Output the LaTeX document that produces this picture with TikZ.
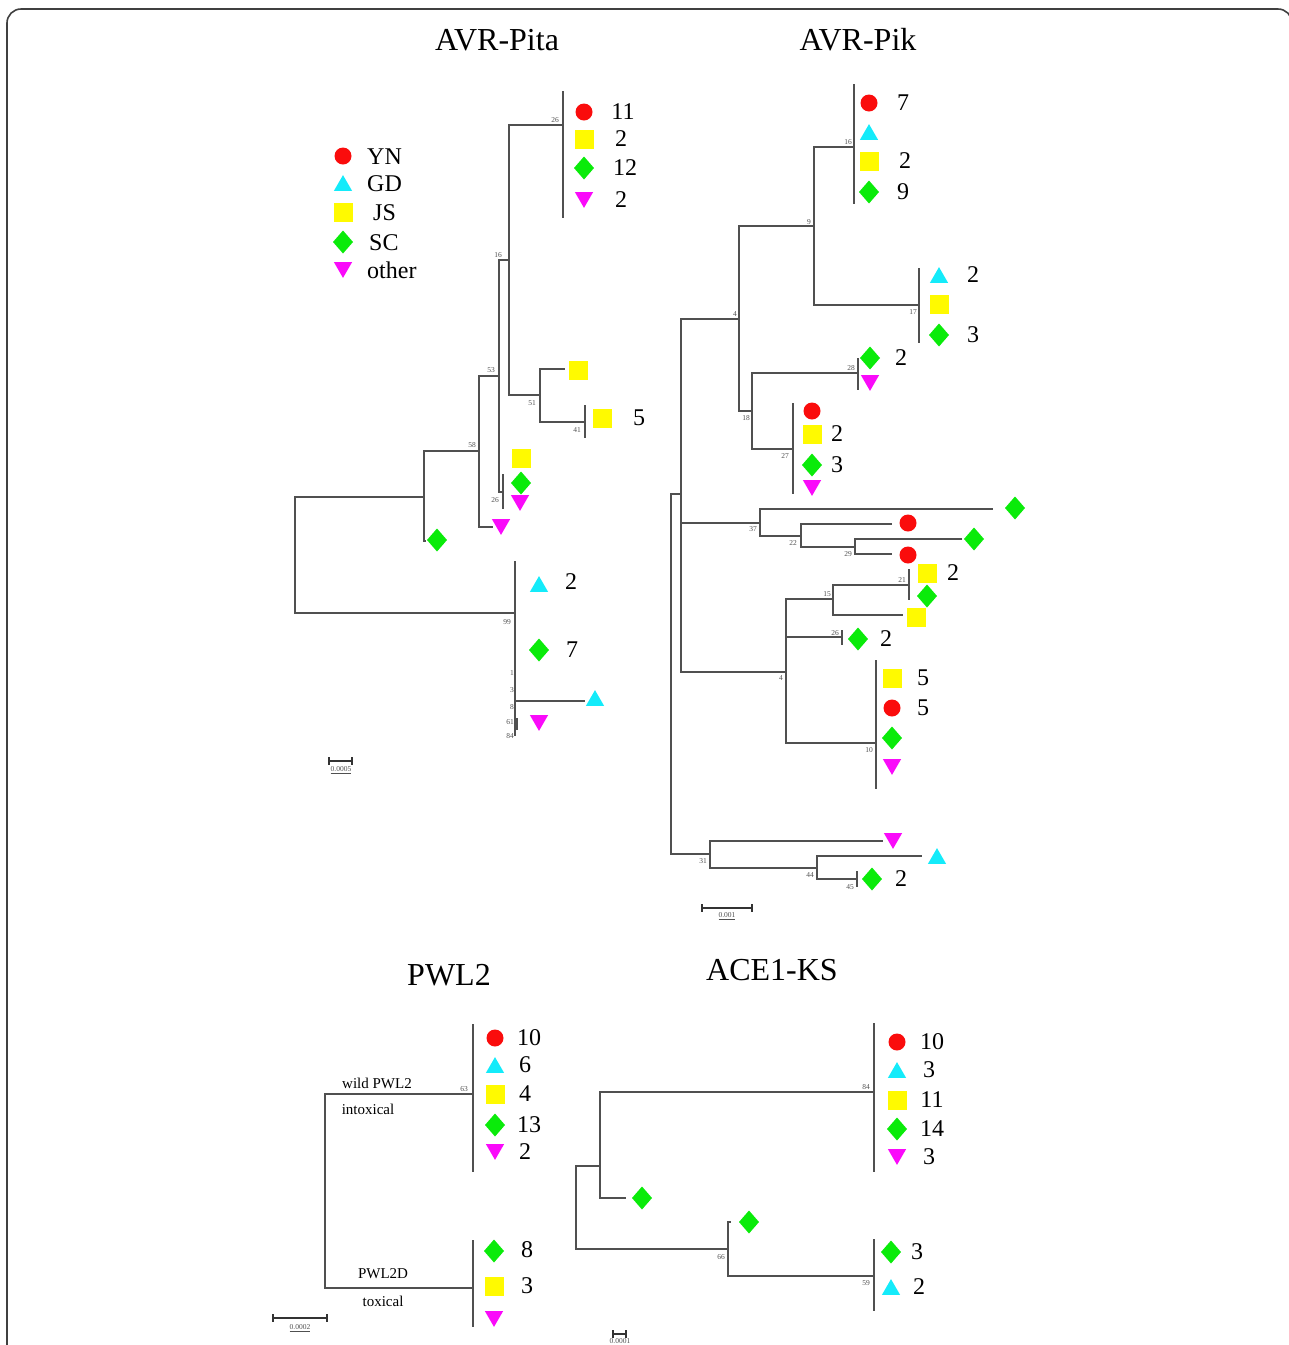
\documentclass[tikz,border=0pt]{standalone}
\usepackage{fontspec}
\setmainfont{Liberation Serif}
\usetikzlibrary{shapes.geometric}
\definecolor{ynred}{RGB}{250,12,12}
\definecolor{gdcyan}{RGB}{20,235,250}
\definecolor{jsyel}{RGB}{255,250,0}
\definecolor{scgreen}{RGB}{10,235,10}
\definecolor{otmag}{RGB}{250,10,250}
\definecolor{treegray}{RGB}{80,80,80}
\tikzset{
  br/.style={draw=treegray, line width=1.1pt},
  bs/.style={font=\fontsize{7.5}{8}\selectfont, text=treegray, inner sep=0pt},
  num/.style={font=\fontsize{24}{24}\selectfont, inner sep=0pt},
  legtxt/.style={font=\fontsize{24}{24}\selectfont, inner sep=0pt, anchor=west},
  ttl/.style={font=\fontsize{32}{32}\selectfont, inner sep=0pt},
  lbl/.style={font=\fontsize{15}{15}\selectfont, inner sep=0pt},
  sclbl/.style={font=\fontsize{7.5}{8}\selectfont, text=treegray, inner sep=0pt},
  symb/.style={inner sep=0pt, outer sep=0pt, draw=none},
  yn/.style={symb, circle, fill=ynred, minimum size=17pt},
  gd/.style={symb, regular polygon, regular polygon sides=3, fill=gdcyan, minimum size=21pt, yshift=-2.6pt},
  js/.style={symb, rectangle, fill=jsyel, minimum size=19pt},
  sc/.style={symb, diamond, fill=scgreen, minimum width=20pt, minimum height=23pt},
  ot/.style={symb, regular polygon, regular polygon sides=3, shape border rotate=180, fill=otmag, minimum size=21pt, yshift=2.6pt},
}
\begin{document}
\begin{tikzpicture}[x=1pt,y=-1pt]
\useasboundingbox (0,0) rectangle (1289,1345);
\begin{scope}
\clip (0,0) rectangle (1289,1345);
\draw[rounded corners=14pt, line width=1.6pt, black!75] (7,1400) -- (7,9) -- (1292,9) -- (1292,1400);
\end{scope}

% ---------- titles ----------
\node[ttl] (t1) at (497,40) {AVR-Pita};
\node[ttl] (t2) at (858,40) {AVR-Pik};
\node[ttl] (t3) at (449,975) {PWL2};
\node[ttl] (t4) at (772,970) {ACE1-KS};

% ---------- legend ----------
\node[yn] (lg1) at (343,156) {};
\node[gd] (lg2) at (343,183) {};
\node[js] (lg3) at (343,212) {};
\node[sc] (lg4) at (343,242) {};
\node[ot] (lg5) at (343,270) {};
\node[legtxt] (lt1) at (367,157) {YN};
\node[legtxt] (lt2) at (367,184) {GD};
\node[legtxt] (lt3) at (373,213) {JS};
\node[legtxt] (lt4) at (369,243) {SC};
\node[legtxt] (lt5) at (367,270) {other};

% ================= AVR-Pita tree =================
\coordinate (a0) at (295,555);
\coordinate (aN1) at (424,497);
\coordinate (aL1) at (426,541);
\coordinate (a58) at (479,451);
\coordinate (aL2) at (493,527);
\coordinate (a53) at (499,376);
\coordinate (a16) at (509,260);
\coordinate (a26) at (563,125);
\coordinate (a26t) at (563,91);
\coordinate (a26b) at (563,218);
\coordinate (a51) at (540,395);
\coordinate (aL3) at (565,369);
\coordinate (a41) at (585,422);
\coordinate (a41t) at (585,405);
\coordinate (a41b) at (585,438);
\coordinate (a26s) at (503,492);
\coordinate (a26st) at (503,474);
\coordinate (a26sb) at (503,509);
\coordinate (a99) at (515,613);
\coordinate (a99t) at (515,561);
\coordinate (a99b) at (515,736);
\coordinate (aL4) at (585,701);
\coordinate (a61t) at (517,718);
\coordinate (a61b) at (517,730);

\draw[br] (a0) |- (aN1);
\draw[br] (a0) |- (a99);
\draw[br] (aN1) |- (a58);
\draw[br] (aN1) |- (aL1);
\draw[br] (a58) |- (a53);
\draw[br] (a58) |- (aL2);
\draw[br] (a53) |- (a16);
\draw[br] (a53) |- (a26s);
\draw[br] (a16) |- (a26);
\draw[br] (a16) |- (a51);
\draw[br] (a51) |- (aL3);
\draw[br] (a51) |- (a41);
\draw[br] (a26t) -- (a26b);
\draw[br] (a41t) -- (a41b);
\draw[br] (a26st) -- (a26sb);
\draw[br] (a99t) -- (a99b);
\draw[br] (a99) |- (aL4);
\draw[br] (a61t) -- (a61b);

\node[bs] (ab1) at (555,120) {26};
\node[bs] (ab2) at (498,255) {16};
\node[bs] (ab3) at (491,370) {53};
\node[bs] (ab4) at (532,403) {51};
\node[bs] (ab5) at (577,430) {41};
\node[bs] (ab6) at (472,445) {58};
\node[bs] (ab7) at (495,500) {26};
\node[bs] (ab8) at (507,622) {99};
\node[bs] (ab9) at (512,673) {1};
\node[bs] (ab10) at (512,690) {3};
\node[bs] (ab11) at (512,707) {8};
\node[bs] (ab12) at (510,722) {61};
\node[bs] (ab13) at (510,736) {84};

\node[yn] (as1) at (584,112) {};
\node[num] (an1) at (623,112) {11};
\node[js] (as2) at (584,139) {};
\node[num] (an2) at (621,139) {2};
\node[sc] (as3) at (584,168) {};
\node[num] (an3) at (625,168) {12};
\node[ot] (as4) at (584,200) {};
\node[num] (an4) at (621,200) {2};
\node[js] (as5) at (578,370) {};
\node[js] (as6) at (602,418) {};
\node[num] (an6) at (639,418) {5};
\node[js] (as7) at (521,458) {};
\node[sc] (as8) at (521,483) {};
\node[ot] (as9) at (520,503) {};
\node[ot] (as10) at (501,527) {};
\node[sc] (as11) at (437,540) {};
\node[gd] (as12) at (539,584) {};
\node[num] (an12) at (571,582) {2};
\node[sc] (as13) at (539,650) {};
\node[num] (an13) at (572,650) {7};
\node[gd] (as14) at (595,698) {};
\node[ot] (as15) at (539,723) {};

\coordinate (asb1) at (329,761);
\coordinate (asb2) at (352,761);
\draw[line width=1.2pt, black!80] (asb1) -- (asb2) (329,757) -- (329,765) (352,757) -- (352,765);
\node[sclbl] (asl) at (341,770) {\underline{0.0005}};

% ================= AVR-Pik tree =================
\coordinate (b0) at (671,674);
\coordinate (bN) at (681,494);
\coordinate (b4u) at (739,319);
\coordinate (b9) at (814,226);
\coordinate (b16) at (854,147);
\coordinate (b16t) at (854,84);
\coordinate (b16b) at (854,204);
\coordinate (b17) at (919,305);
\coordinate (b17t) at (919,268);
\coordinate (b17b) at (919,343);
\coordinate (b18) at (752,411);
\coordinate (b28) at (858,373);
\coordinate (b28t) at (858,358);
\coordinate (b28b) at (858,390);
\coordinate (b27) at (793,449);
\coordinate (b27t) at (793,403);
\coordinate (b27b) at (793,494);
\coordinate (b37) at (760,523);
\coordinate (bL1) at (993,509);
\coordinate (b22) at (801,536);
\coordinate (bL2) at (892,524);
\coordinate (b29) at (855,547);
\coordinate (bL3) at (962,539);
\coordinate (bL4) at (892,554);
\coordinate (b4l) at (786,672);
\coordinate (b15) at (833,599);
\coordinate (b21) at (909,585);
\coordinate (b21t) at (909,569);
\coordinate (b21b) at (909,600);
\coordinate (bL5) at (903,615);
\coordinate (b26) at (842,637);
\coordinate (b26t) at (842,630);
\coordinate (b26b) at (842,645);
\coordinate (b10) at (876,743);
\coordinate (b10t) at (876,660);
\coordinate (b10b) at (876,789);
\coordinate (b31) at (710,854);
\coordinate (bL6) at (883,841);
\coordinate (b44) at (817,868);
\coordinate (bL7) at (922,856);
\coordinate (b45) at (857,879);
\coordinate (b45t) at (857,871);
\coordinate (b45b) at (857,887);

\draw[br] (b0) |- (bN);
\draw[br] (b0) |- (b31);
\draw[br] (bN) |- (b4u);
\draw[br] (bN) |- (b37);
\draw[br] (bN) |- (b4l);
\draw[br] (b4u) |- (b9);
\draw[br] (b4u) |- (b18);
\draw[br] (b9) |- (b16);
\draw[br] (b9) |- (b17);
\draw[br] (b18) |- (b28);
\draw[br] (b18) |- (b27);
\draw[br] (b37) |- (bL1);
\draw[br] (b37) |- (b22);
\draw[br] (b22) |- (bL2);
\draw[br] (b22) |- (b29);
\draw[br] (b29) |- (bL3);
\draw[br] (b29) |- (bL4);
\draw[br] (b4l) |- (b15);
\draw[br] (b4l) |- (b26);
\draw[br] (b4l) |- (b10);
\draw[br] (b15) |- (b21);
\draw[br] (b15) |- (bL5);
\draw[br] (b31) |- (bL6);
\draw[br] (b31) |- (b44);
\draw[br] (b44) |- (bL7);
\draw[br] (b44) |- (b45);
\draw[br] (b16t) -- (b16b);
\draw[br] (b17t) -- (b17b);
\draw[br] (b28t) -- (b28b);
\draw[br] (b27t) -- (b27b);
\draw[br] (b21t) -- (b21b);
\draw[br] (b26t) -- (b26b);
\draw[br] (b10t) -- (b10b);
\draw[br] (b45t) -- (b45b);

\node[bs] (bb1) at (848,142) {16};
\node[bs] (bb2) at (809,222) {9};
\node[bs] (bb3) at (913,312) {17};
\node[bs] (bb4) at (735,314) {4};
\node[bs] (bb5) at (851,368) {28};
\node[bs] (bb6) at (746,418) {18};
\node[bs] (bb7) at (785,456) {27};
\node[bs] (bb8) at (753,529) {37};
\node[bs] (bb9) at (793,543) {22};
\node[bs] (bb10) at (848,554) {29};
\node[bs] (bb11) at (902,580) {21};
\node[bs] (bb12) at (827,594) {15};
\node[bs] (bb13) at (835,633) {26};
\node[bs] (bb14) at (781,678) {4};
\node[bs] (bb15) at (869,750) {10};
\node[bs] (bb16) at (703,861) {31};
\node[bs] (bb17) at (810,875) {44};
\node[bs] (bb18) at (850,887) {45};

\node[yn] (bs1) at (869,103) {};
\node[num] (bn1) at (903,103) {7};
\node[gd] (bs2) at (869,132) {};
\node[js] (bs3) at (869,161) {};
\node[num] (bn3) at (905,161) {2};
\node[sc] (bs4) at (869,192) {};
\node[num] (bn4) at (903,192) {9};
\node[gd] (bs5) at (939,275) {};
\node[num] (bn5) at (973,275) {2};
\node[js] (bs6) at (939,304) {};
\node[sc] (bs7) at (939,335) {};
\node[num] (bn7) at (973,335) {3};
\node[sc] (bs8) at (870,358) {};
\node[num] (bn8) at (901,358) {2};
\node[ot] (bs9) at (870,383) {};
\node[yn] (bs10) at (812,411) {};
\node[js] (bs11) at (812,434) {};
\node[num] (bn11) at (837,434) {2};
\node[sc] (bs12) at (812,465) {};
\node[num] (bn12) at (837,465) {3};
\node[ot] (bs13) at (812,488) {};
\node[sc] (bs14) at (1015,508) {};
\node[yn] (bs15) at (908,523) {};
\node[sc] (bs16) at (974,539) {};
\node[yn] (bs17) at (908,555) {};
\node[js] (bs18) at (927,573) {};
\node[num] (bn18) at (953,573) {2};
\node[sc] (bs19) at (927,596) {};
\node[js] (bs20) at (916,617) {};
\node[sc] (bs21) at (858,639) {};
\node[num] (bn21) at (886,639) {2};
\node[js] (bs22) at (892,678) {};
\node[num] (bn22) at (923,678) {5};
\node[yn] (bs23) at (892,708) {};
\node[num] (bn23) at (923,708) {5};
\node[sc] (bs24) at (892,738) {};
\node[ot] (bs25) at (892,767) {};
\node[ot] (bs26) at (893,841) {};
\node[gd] (bs27) at (937,856) {};
\node[sc] (bs28) at (872,879) {};
\node[num] (bn28) at (901,879) {2};

\coordinate (bsb1) at (702,908);
\coordinate (bsb2) at (752,908);
\draw[line width=1.2pt, black!80] (bsb1) -- (bsb2) (702,904) -- (702,912) (752,904) -- (752,912);
\node[sclbl] (bsl) at (727,916) {\underline{0.001}};

% ================= PWL2 tree =================
\coordinate (c0) at (325,1191);
\coordinate (c63) at (473,1094);
\coordinate (c63t) at (473,1024);
\coordinate (c63b) at (473,1172);
\coordinate (cD) at (473,1288);
\coordinate (cDt) at (473,1240);
\coordinate (cDb) at (473,1327);
\draw[br] (c0) |- (c63);
\draw[br] (c0) |- (cD);
\draw[br] (c63t) -- (c63b);
\draw[br] (cDt) -- (cDb);
\node[bs] (cb1) at (464,1089) {63};
\node[lbl] (cl1) at (377,1083) {wild PWL2};
\node[lbl] (cl2) at (368,1109) {intoxical};
\node[lbl] (cl3) at (383,1274) {PWL2D};
\node[lbl] (cl4) at (383,1301) {toxical};

\node[yn] (cs1) at (495,1038) {};
\node[num] (cn1) at (529,1038) {10};
\node[gd] (cs2) at (495,1065) {};
\node[num] (cn2) at (525,1065) {6};
\node[js] (cs3) at (495,1094) {};
\node[num] (cn3) at (525,1094) {4};
\node[sc] (cs4) at (495,1125) {};
\node[num] (cn4) at (529,1125) {13};
\node[ot] (cs5) at (495,1152) {};
\node[num] (cn5) at (525,1152) {2};
\node[sc] (cs6) at (494,1251) {};
\node[num] (cn6) at (527,1250) {8};
\node[js] (cs7) at (494,1286) {};
\node[num] (cn7) at (527,1286) {3};
\node[ot] (cs8) at (494,1319) {};

\coordinate (csb1) at (273,1318);
\coordinate (csb2) at (327,1318);
\draw[line width=1.2pt, black!80] (csb1) -- (csb2) (273,1314) -- (273,1322) (327,1314) -- (327,1322);
\node[sclbl] (csl) at (300,1328) {\underline{0.0002}};

% ================= ACE1-KS tree =================
\coordinate (d0) at (576,1208);
\coordinate (dN) at (600,1166);
\coordinate (d84) at (874,1092);
\coordinate (d84t) at (874,1023);
\coordinate (d84b) at (874,1172);
\coordinate (dL1) at (626,1198);
\coordinate (d66) at (728,1249);
\coordinate (dL2) at (731,1222);
\coordinate (d59) at (874,1276);
\coordinate (d59t) at (874,1239);
\coordinate (d59b) at (874,1311);
\draw[br] (d0) |- (dN);
\draw[br] (d0) |- (d66);
\draw[br] (dN) |- (d84);
\draw[br] (dN) |- (dL1);
\draw[br] (d66) |- (dL2);
\draw[br] (d66) |- (d59);
\draw[br] (d84t) -- (d84b);
\draw[br] (d59t) -- (d59b);
\node[bs] (db1) at (866,1087) {84};
\node[bs] (db2) at (721,1257) {66};
\node[bs] (db3) at (866,1283) {59};

\node[yn] (ds1) at (897,1042) {};
\node[num] (dn1) at (932,1042) {10};
\node[gd] (ds2) at (897,1070) {};
\node[num] (dn2) at (929,1070) {3};
\node[js] (ds3) at (897,1100) {};
\node[num] (dn3) at (932,1100) {11};
\node[sc] (ds4) at (897,1129) {};
\node[num] (dn4) at (932,1129) {14};
\node[ot] (ds5) at (897,1157) {};
\node[num] (dn5) at (929,1157) {3};
\node[sc] (ds6) at (642,1198) {};
\node[sc] (ds7) at (749,1222) {};
\node[sc] (ds8) at (891,1252) {};
\node[num] (dn8) at (917,1252) {3};
\node[gd] (ds9) at (891,1287) {};
\node[num] (dn9) at (919,1287) {2};

\coordinate (dsb1) at (613,1334);
\coordinate (dsb2) at (626,1334);
\draw[line width=1.2pt, black!80] (dsb1) -- (dsb2) (613,1330) -- (613,1338) (626,1330) -- (626,1338);
\node[sclbl] (dsl) at (620,1341) {0.0001};
\end{tikzpicture}
\end{document}
